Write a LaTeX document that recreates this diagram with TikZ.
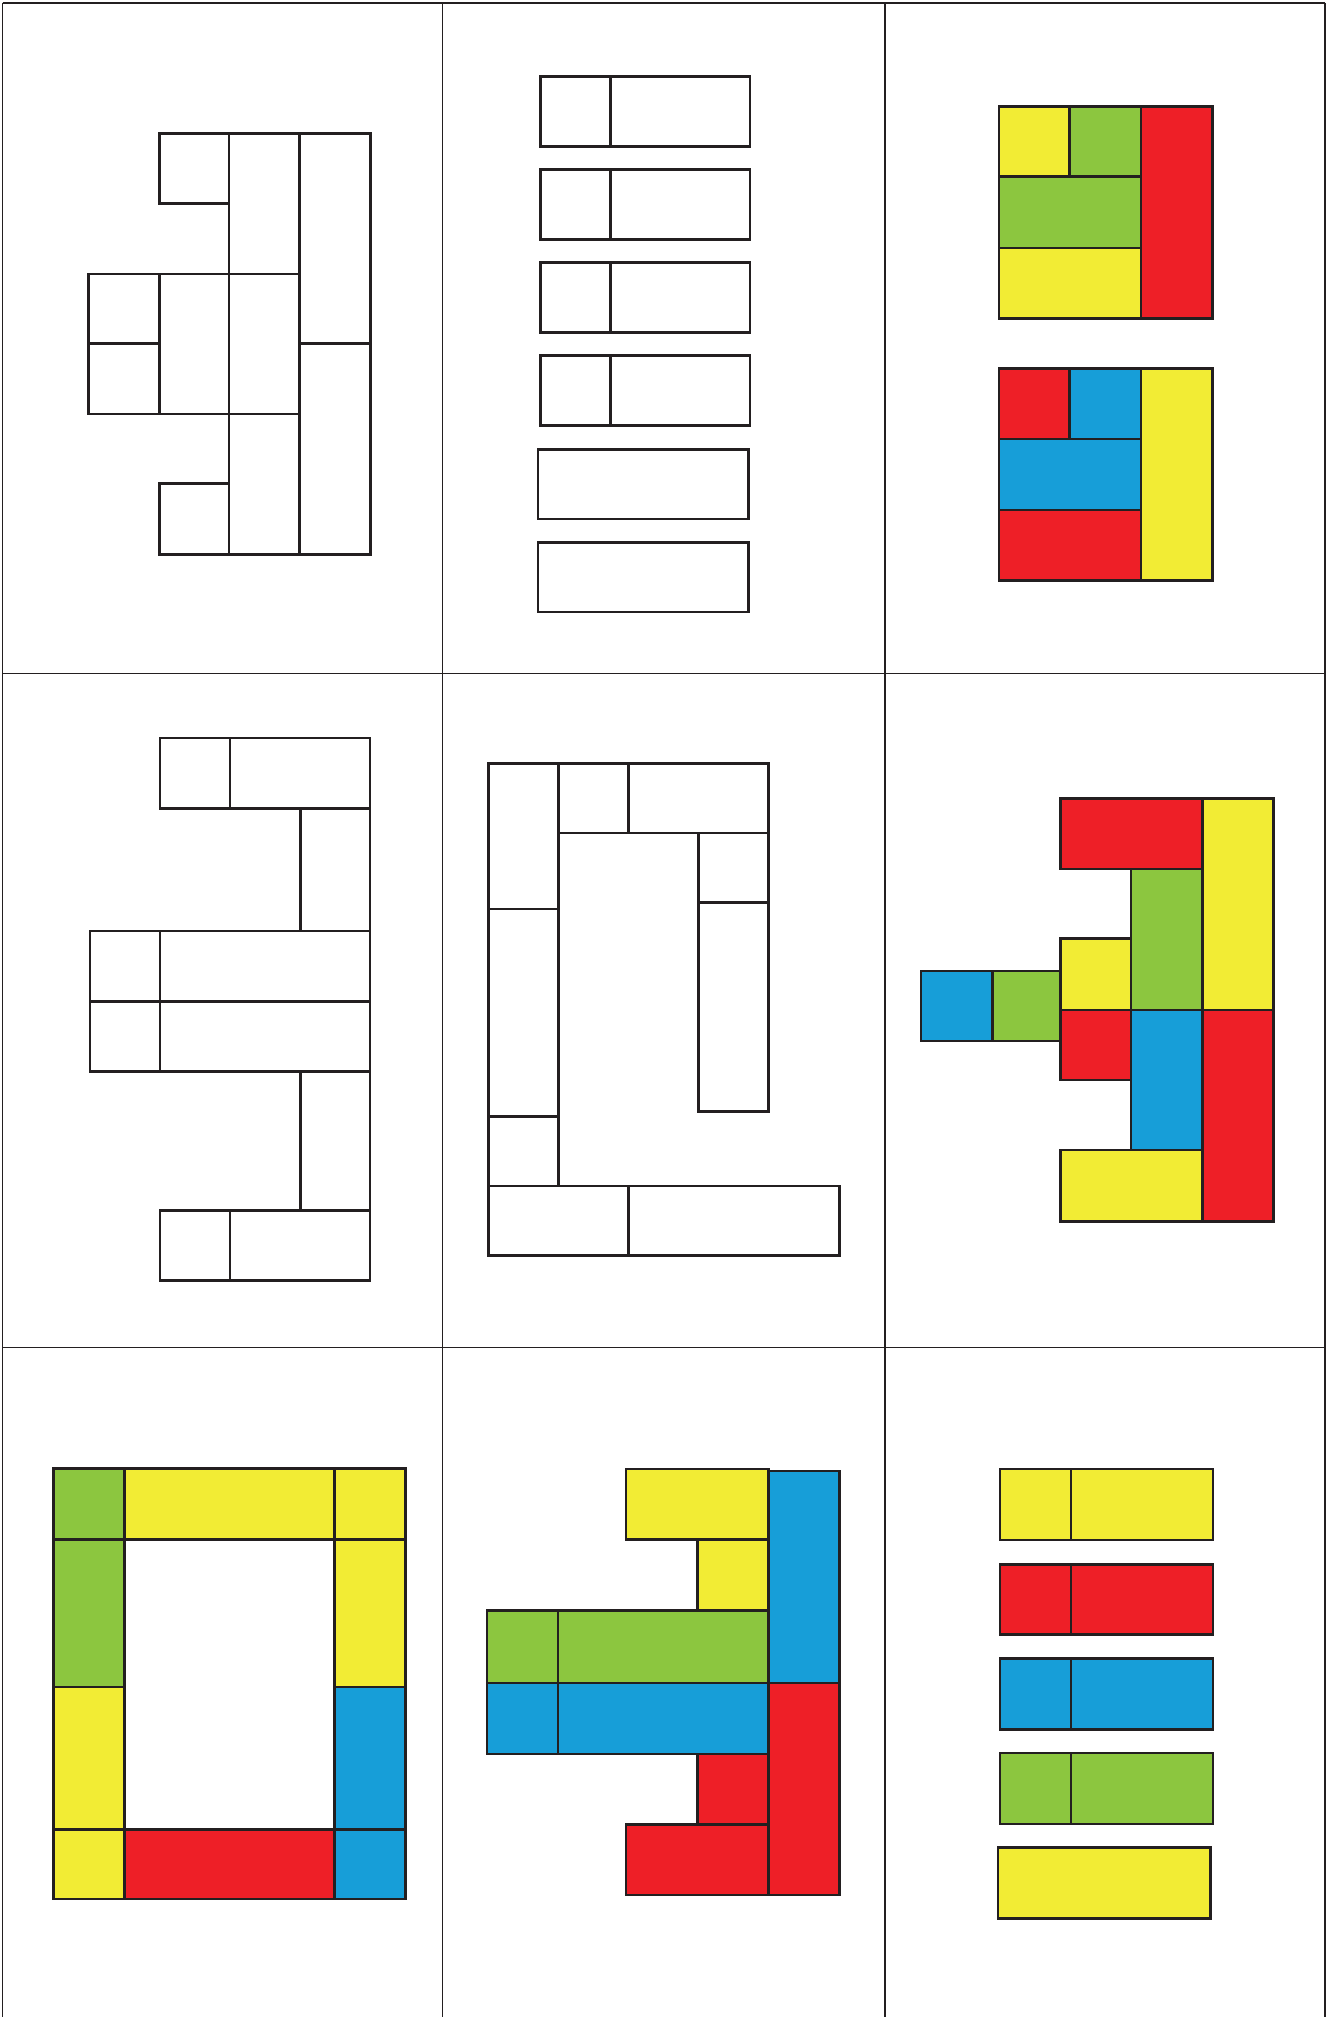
\documentclass[tikz,border=0pt]{standalone}
\definecolor{pY}{RGB}{242,236,52}
\definecolor{pG}{RGB}{140,198,63}
\definecolor{pR}{RGB}{238,31,39}
\definecolor{pB}{RGB}{23,158,216}
\definecolor{ink}{RGB}{35,31,32}
\tikzset{
  piece/.style={draw=ink, line width=2pt, fill=white},
  Y/.style={piece, fill=pY},
  G/.style={piece, fill=pG},
  R/.style={piece, fill=pR},
  B/.style={piece, fill=pB},
  W/.style={piece},
  gridline/.style={draw=ink, line width=0.9pt}
}
\begin{document}
\begin{tikzpicture}[x=1pt,y=-1pt]
\useasboundingbox (0,0) rectangle (1032,1568);
\fill[white] (0,0) rectangle (1032,1568);
% grid
\foreach \gx in {2,344,688,1030} \draw[gridline] (\gx,2) -- (\gx,1568);
\foreach \gy in {2.3,523.8,1047.5} \draw[gridline] (2,\gy) -- (1030,\gy);

% ---------- panel 1 ----------
\path[W] (124,104) rectangle (178,158);
\path[W] (178,104) rectangle (233,213);
\path[W] (178,213) rectangle (233,322);
\path[W] (178,322) rectangle (233,431);
\path[W] (233,104) rectangle (288,267);
\path[W] (233,267) rectangle (288,431);
\path[W] (69,213) rectangle (124,267);
\path[W] (69,267) rectangle (124,322);
\path[W] (124,213) rectangle (178,322);
\path[W] (124,376) rectangle (178,431);

% ---------- panel 2 ----------
\foreach \ta/\tb in {59.5/114, 131.7/186.2, 204.2/258.4, 276.4/330.9}{
  \path[W] (420,\ta) rectangle (474.4,\tb);
  \path[W] (474.4,\ta) rectangle (583.2,\tb);
}
\path[W] (418.1,349.3) rectangle (581.7,403.4);
\path[W] (418.1,421.8) rectangle (581.7,475.6);

% ---------- panel 3 ----------
\path[Y] (776.6,82.6) rectangle (831.6,137.4);
\path[G] (831.6,82.6) rectangle (887.1,137.4);
\path[G] (776.6,137.4) rectangle (887.1,192.8);
\path[Y] (776.6,192.8) rectangle (887.1,247.7);
\path[R] (887.1,82.6) rectangle (942.5,247.7);
\path[R] (776.6,286.4) rectangle (831.6,341.2);
\path[B] (831.6,286.4) rectangle (887.1,341.2);
\path[B] (776.6,341.2) rectangle (887.1,396.4);
\path[R] (776.6,396.4) rectangle (887.1,451.2);
\path[Y] (887.1,286.4) rectangle (942.5,451.2);

% ---------- panel 4 ----------
\path[W] (124.4,573.8) rectangle (178.8,628.6);
\path[W] (178.8,573.8) rectangle (287.7,628.6);
\path[W] (233.5,628.6) rectangle (287.7,723.9);
\path[W] (70,723.9) rectangle (124.4,778.7);
\path[W] (124.4,723.9) rectangle (287.7,778.7);
\path[W] (70,778.7) rectangle (124.4,832.8);
\path[W] (124.4,778.7) rectangle (287.7,832.8);
\path[W] (233.5,832.8) rectangle (287.7,941.1);
\path[W] (124.4,941.1) rectangle (178.8,995.3);
\path[W] (178.8,941.1) rectangle (287.7,995.3);

% ---------- panel 5 ----------
\path[W] (379.8,593.5) rectangle (434.2,706.5);
\path[W] (379.8,706.5) rectangle (434.2,867.9);
\path[W] (379.8,867.9) rectangle (434.2,922.1);
\path[W] (434.2,593.5) rectangle (488.6,647.7);
\path[W] (488.6,593.5) rectangle (597.3,647.7);
\path[W] (543.1,647.7) rectangle (597.3,701.5);
\path[W] (543.1,701.5) rectangle (597.3,863.9);
\path[W] (379.8,922.1) rectangle (488.6,976.2);
\path[W] (488.6,922.1) rectangle (652.5,976.2);

% ---------- panel 6 ----------
\path[R] (824.3,620.6) rectangle (934.8,675.4);
\path[Y] (934.8,620.6) rectangle (990.2,785);
\path[G] (879.3,675.4) rectangle (934.8,785);
\path[Y] (824.3,729.6) rectangle (879.3,785);
\path[B] (716,755) rectangle (771.5,809.4);
\path[G] (771.5,755) rectangle (824.3,809.4);
\path[R] (824.3,785) rectangle (879.3,839.5);
\path[B] (879.3,785) rectangle (934.8,894);
\path[Y] (824.3,894) rectangle (934.8,949.5);
\path[R] (934.8,785) rectangle (990.2,949.5);

% ---------- panel 7 ----------
\path[G] (41.7,1141.8) rectangle (96.7,1196.6);
\path[Y] (96.7,1141.8) rectangle (260.2,1196.6);
\path[Y] (260.2,1141.8) rectangle (315.2,1196.6);
\path[G] (41.7,1196.6) rectangle (96.7,1311.6);
\path[Y] (41.7,1311.6) rectangle (96.7,1422.2);
\path[Y] (41.7,1422.2) rectangle (96.7,1476.3);
\path[R] (96.7,1422.2) rectangle (260.2,1476.3);
\path[B] (260.2,1422.2) rectangle (315.2,1476.3);
\path[Y] (260.2,1196.6) rectangle (315.2,1311.6);
\path[B] (260.2,1311.6) rectangle (315.2,1422.2);

% ---------- panel 8 ----------
\path[Y] (486.8,1142.1) rectangle (597.3,1196.6);
\path[B] (597.3,1143.5) rectangle (652.5,1308.2);
\path[Y] (542.3,1196.6) rectangle (597.3,1252.1);
\path[G] (378.5,1252.1) rectangle (433.7,1308.2);
\path[G] (433.7,1252.1) rectangle (597.3,1308.2);
\path[B] (378.5,1308.2) rectangle (433.7,1363.4);
\path[B] (433.7,1308.2) rectangle (597.3,1363.4);
\path[R] (542.3,1363.4) rectangle (597.3,1418.5);
\path[R] (486.8,1418.5) rectangle (597.3,1473.3);
\path[R] (597.3,1308.2) rectangle (652.5,1473.3);

% ---------- panel 9 ----------
\foreach \st/\ta/\tb in {Y/1142.1/1197.3, R/1216/1270.8, B/1289.5/1344.3, G/1362.7/1417.9}{
  \path[\st] (777.4,\ta) rectangle (832.6,\tb);
  \path[\st] (832.6,\ta) rectangle (942.8,\tb);
}
\path[Y] (775.9,1436.2) rectangle (941.2,1491.4);
\end{tikzpicture}
\end{document}
